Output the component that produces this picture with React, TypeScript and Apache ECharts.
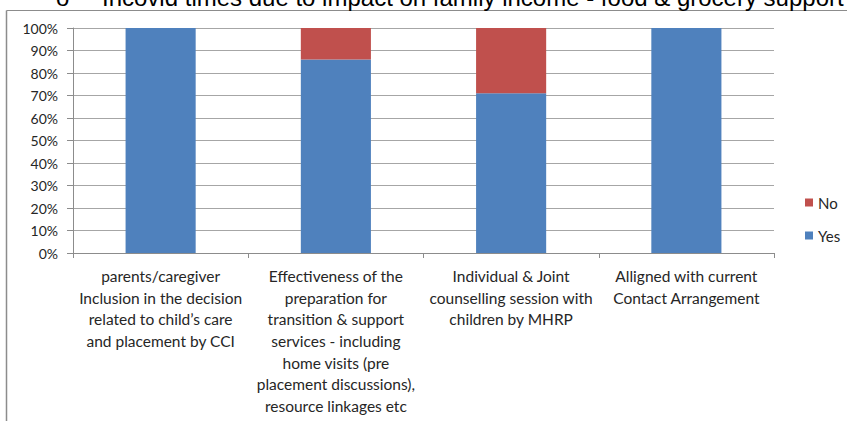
import React, { useEffect, useRef } from "react";
import * as echarts from "echarts";

const categories = [
  "parents/caregiver\nInclusion in the decision\nrelated to child’s care\nand placement by CCI",
  "Effectiveness of the\npreparation for\ntransition & support\nservices - including\nhome visits (pre\nplacement discussions),\nresource linkages etc",
  "Individual & Joint\ncounselling session with\nchildren by MHRP",
  "Alligned with current\nContact Arrangement",
];
const yesValues = [100, 86, 71, 100];
const noValues = [0, 14, 29, 0];
const headingText = "Incovid times due to impact on family income - food & grocery support";

export default function App() {
  const ref = useRef<HTMLDivElement>(null);
  useEffect(() => {
    if (!ref.current) return;
    const chart = echarts.init(ref.current, undefined, { renderer: "svg" });
    const font = "Lato, 'Open Sans', sans-serif";
    chart.setOption({
      animation: false,
      backgroundColor: "#ffffff",
      textStyle: { fontFamily: font },
      grid: { left: 73, right: 73, top: 28, bottom: 168, containLabel: false },
      legend: {
        orient: "vertical",
        left: 800,
        top: 190,
        itemWidth: 8,
        itemHeight: 8,
        itemGap: 18,
        icon: "rect",
        data: ["No", "Yes"],
        textStyle: { fontSize: 15, color: "#262626", fontFamily: font },
      },
      xAxis: {
        type: "category",
        data: categories,
        axisLine: { show: true, lineStyle: { color: "#8c8c8c", width: 1 } },
        axisTick: { show: true, length: 5, lineStyle: { color: "#8c8c8c" } },
        axisLabel: {
          interval: 0,
          fontSize: 15.5,
          lineHeight: 21.7,
          color: "#262626",
          margin: 12,
          fontFamily: font,
        },
      },
      yAxis: {
        type: "value",
        min: 0,
        max: 100,
        interval: 10,
        axisLine: { show: true, lineStyle: { color: "#8c8c8c", width: 1 } },
        axisTick: { show: true, length: 6, lineStyle: { color: "#8c8c8c" } },
        axisLabel: {
          formatter: "{value}%",
          fontSize: 14,
          color: "#262626",
          margin: 15,
          fontFamily: font,
        },
        splitLine: { show: true, lineStyle: { color: "#a6a6a6", width: 1 } },
      },
      series: [
        {
          name: "Yes",
          type: "bar",
          stack: "total",
          data: yesValues,
          barCategoryGap: "60%",
          itemStyle: { color: "#4F81BD" },
        },
        {
          name: "No",
          type: "bar",
          stack: "total",
          data: noValues,
          barCategoryGap: "60%",
          itemStyle: { color: "#C0504D" },
        },
      ],
      graphic: [
        {
          type: "line",
          shape: { x1: 6.5, y1: 10.5, x2: 847, y2: 10.5 },
          style: { stroke: "#8c8c8c", lineWidth: 1 },
        },
        {
          type: "line",
          shape: { x1: 6.5, y1: 10.5, x2: 6.5, y2: 421 },
          style: { stroke: "#8c8c8c", lineWidth: 1.5 },
        },
        {
          type: "text",
          x: 56,
          y: 9,
          style: {
            text: "o",
            font: "24px 'Liberation Sans', Arial, sans-serif",
            fill: "#000000",
            verticalAlign: "bottom",
          },
        },
        {
          type: "text",
          x: 102,
          y: 9,
          style: {
            text: headingText,
            font: "24px 'Liberation Sans', Arial, sans-serif",
            fill: "#000000",
            verticalAlign: "bottom",
          },
        },
      ],
    });
    return () => chart.dispose();
  }, []);
  return (
    <div
      ref={ref}
      style={{ position: "fixed", left: 0, top: 0, width: 847, height: 421 }}
    />
  );
}
